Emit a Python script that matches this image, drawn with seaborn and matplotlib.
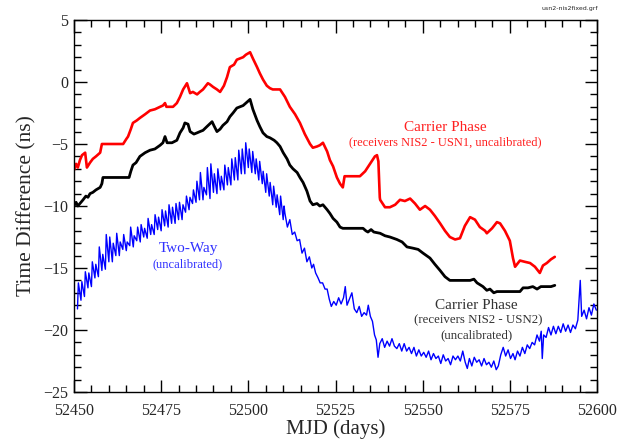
import numpy as np
import pandas as pd
import matplotlib
matplotlib.use("Agg")
import matplotlib.pyplot as plt
import seaborn as sns
from matplotlib.ticker import MultipleLocator

# carrier phase NIS2 - USN1 (red)
red_mjd = [52450.0, 52450.6, 52451.1, 52451.7, 52452.3, 52453.2, 52453.7, 52454.6, 52455.4, 52456.3,
           52457.5, 52458.0, 52464.1, 52465.0, 52465.5, 52466.3, 52466.9, 52468.0, 52468.9, 52470.4,
           52471.8, 52473.2, 52474.7, 52475.5, 52476.1, 52476.5, 52478.4, 52479.5, 52480.4, 52481.3,
           52482.4, 52483.3, 52484.1, 52485.3, 52486.1, 52487.0, 52488.4, 52489.0, 52489.9, 52491.0,
           52491.9, 52493.0, 52493.9, 52494.7, 52495.9, 52496.7, 52497.6, 52498.5, 52499.3, 52499.9,
           52500.5, 52501.3, 52502.5, 52503.3, 52504.2, 52505.3, 52506.2, 52507.0, 52509.1, 52510.5,
           52511.9, 52513.4, 52514.8, 52516.2, 52517.7, 52518.5, 52519.7, 52520.5, 52521.4, 52522.6,
           52523.4, 52524.3, 52525.4, 52526.3, 52527.1, 52527.6, 52532.0, 52533.5, 52534.9, 52536.3,
           52536.9, 52537.3, 52537.7, 52537.8, 52539.2, 52540.6, 52542.1, 52543.5, 52544.9, 52546.4,
           52547.8, 52549.2, 52550.7, 52552.1, 52553.5, 52555.0, 52556.4, 52557.8, 52559.3, 52560.7,
           52562.1, 52563.6, 52565.0, 52566.4, 52567.9, 52568.4, 52569.9, 52571.3, 52572.2, 52573.6,
           52575.0, 52575.9, 52576.5, 52577.9, 52579.3, 52580.8, 52582.2, 52583.6, 52584.5, 52585.6,
           52586.8, 52587.9]
red_ns = [-7.1, -6.6, -6.9, -6.3, -5.9, -5.7, -6.9, -6.5, -6.2, -6.0,
          -5.7, -5.0, -5.0, -4.6, -4.4, -3.8, -3.3, -3.1, -2.9, -2.6,
          -2.3, -2.2, -2.0, -1.9, -1.7, -2.0, -2.0, -1.7, -1.2, -0.6,
          -0.1, -0.9, -0.8, -1.0, -0.8, -0.6, -0.1, -0.2, -0.4, -0.6,
          -0.8, -0.3, 0.4, 1.2, 1.4, 1.8, 1.9, 2.0, 2.2, 2.3,
          2.4, 1.9, 1.2, 0.7, 0.2, -0.3, -0.5, -0.6, -0.6, -1.2,
          -2.0, -2.6, -3.3, -4.2, -5.0, -5.3, -5.2, -5.1, -4.9, -5.6,
          -6.3, -6.8, -7.7, -8.2, -8.5, -7.6, -7.6, -7.2, -6.6, -6.0,
          -5.9, -6.4, -9.3, -9.5, -10.1, -10.1, -9.9, -9.5, -9.6, -9.4,
          -9.8, -10.3, -10.0, -10.3, -10.8, -11.4, -12.0, -12.5, -12.7, -12.6,
          -11.6, -10.9, -11.1, -11.7, -12.0, -12.2, -11.8, -11.3, -11.4, -12.0,
          -12.8, -14.2, -14.9, -14.4, -14.5, -14.6, -14.9, -15.4, -14.8, -14.6,
          -14.3, -14.1]

# carrier phase NIS2 - USN2 (black)
blk_mjd = [52450.0, 52450.6, 52451.1, 52451.7, 52452.6, 52453.4, 52454.0, 52454.6, 52455.4, 52456.3,
           52457.5, 52458.0, 52458.3, 52465.8, 52466.3, 52466.9, 52467.8, 52468.9, 52470.4, 52471.8,
           52473.2, 52474.7, 52475.5, 52476.1, 52476.7, 52478.1, 52479.5, 52480.4, 52481.3, 52481.8,
           52482.7, 52483.3, 52484.4, 52485.3, 52486.1, 52487.0, 52488.1, 52489.6, 52490.1, 52491.0,
           52491.9, 52492.7, 52493.9, 52494.7, 52495.6, 52496.7, 52497.6, 52498.5, 52499.3, 52500.5,
           52501.3, 52502.5, 52503.3, 52504.2, 52505.3, 52506.2, 52507.4, 52508.2, 52509.1, 52510.0,
           52511.1, 52511.9, 52512.8, 52514.0, 52514.8, 52515.7, 52516.8, 52517.7, 52518.5, 52519.7,
           52520.5, 52521.4, 52522.6, 52523.4, 52524.3, 52525.4, 52526.3, 52527.1, 52532.9, 52533.7,
           52534.3, 52535.2, 52536.0, 52537.8, 52539.2, 52540.6, 52542.6, 52544.1, 52545.5, 52547.2,
           52548.7, 52550.1, 52552.1, 52553.5, 52555.0, 52556.4, 52557.8, 52563.6, 52564.7, 52565.6,
           52567.3, 52568.4, 52569.3, 52570.4, 52571.3, 52572.2, 52577.9, 52578.8, 52580.2, 52581.6,
           52582.8, 52583.9, 52585.6, 52586.8, 52587.9]
blk_ns = [-10.0, -9.7, -10.0, -9.8, -9.5, -9.2, -9.3, -9.0, -8.9, -8.7,
          -8.5, -8.2, -7.7, -7.7, -7.2, -6.7, -6.5, -6.0, -5.7, -5.5,
          -5.4, -5.1, -4.9, -4.4, -4.9, -4.9, -4.7, -4.1, -3.7, -3.3,
          -3.4, -4.0, -4.2, -4.1, -4.0, -3.9, -3.6, -3.2, -3.5, -4.0,
          -3.8, -3.5, -3.2, -2.8, -2.5, -2.1, -2.0, -1.9, -1.7, -1.4,
          -2.2, -3.1, -3.6, -4.1, -4.4, -4.5, -4.7, -4.9, -5.2, -5.7,
          -6.2, -6.7, -7.0, -7.3, -7.7, -8.1, -8.8, -9.6, -9.9, -9.8,
          -10.0, -9.9, -10.3, -10.6, -11.0, -11.3, -11.7, -11.8, -11.8, -12.0,
          -12.1, -11.9, -12.1, -12.2, -12.4, -12.5, -12.7, -12.9, -13.3, -13.4,
          -13.5, -13.8, -14.2, -14.7, -15.2, -15.7, -16.0, -16.0, -15.9, -16.2,
          -16.5, -16.8, -16.7, -17.0, -16.9, -16.9, -16.9, -16.6, -16.6, -16.5,
          -16.7, -16.5, -16.5, -16.5, -16.4]

# two-way, daily low / high of the diurnal swing
blue_cyc_day = list(range(52451, 52511))
blue_lo = [-18.3, -17.6, -17.3, -16.6, -16.5, -15.8, -15.7, -15.2, -15.1, -14.5,
           -14.5, -14.0, -14.0, -13.5, -13.6, -13.2, -13.3, -12.8, -12.9, -12.5,
           -12.6, -12.3, -12.3, -11.9, -12.0, -11.6, -11.7, -11.4, -11.4, -11.1,
           -11.1, -10.5, -10.3, -9.8, -9.7, -9.5, -9.5, -9.1, -9.4, -8.9,
           -9.0, -8.7, -8.7, -8.3, -8.3, -7.9, -7.9, -7.4, -7.4, -6.9,
           -7.3, -7.4, -7.9, -8.2, -8.9, -9.2, -9.9, -10.1, -10.7, -11.1]
blue_hi = [-16.2, -16.1, -15.3, -15.4, -14.5, -14.7, -13.3, -13.9, -12.3, -12.5,
           -13.0, -12.2, -12.9, -12.3, -12.9, -11.7, -12.4, -11.7, -11.5, -11.8,
           -11.0, -11.5, -10.7, -10.9, -10.3, -10.4, -9.9, -10.1, -9.8, -9.7,
           -9.9, -9.2, -9.3, -8.7, -8.0, -7.3, -8.5, -6.9, -6.6, -7.4,
           -7.0, -7.6, -6.7, -6.9, -6.2, -6.1, -5.5, -5.4, -4.9, -5.4,
           -5.6, -6.2, -6.4, -7.2, -7.4, -8.1, -8.4, -9.1, -9.2, -10.0]

blue_late_mjd = [52510.5, 52511.2, 52511.9, 52512.6, 52513.3, 52514.0, 52514.7, 52515.4, 52516.1, 52516.8,
                 52517.5, 52518.2, 52518.7, 52519.3, 52520.0, 52520.6, 52521.3, 52522.0, 52522.6, 52523.2,
                 52523.8, 52524.5, 52525.2, 52525.9, 52526.6, 52527.3, 52527.8, 52528.3, 52529.0, 52529.7,
                 52530.4, 52531.1, 52531.8, 52532.5, 52533.2, 52533.9, 52534.4, 52535.0, 52535.6, 52536.2,
                 52536.7, 52537.2, 52537.7, 52538.4, 52539.1, 52539.8, 52540.5, 52541.2, 52541.9, 52542.6,
                 52543.3, 52544.0, 52544.7, 52545.4, 52546.1, 52546.8, 52547.5, 52548.2, 52548.9, 52549.6,
                 52550.3, 52551.0, 52551.7, 52552.4, 52553.1, 52553.8, 52554.5, 52555.2, 52555.9, 52556.6,
                 52557.3, 52558.0, 52558.7, 52559.4, 52560.1, 52560.8, 52561.5, 52562.2, 52562.8, 52563.4,
                 52564.1, 52564.8, 52565.5, 52566.2, 52566.9, 52567.6, 52568.3, 52569.0, 52569.7, 52570.4,
                 52571.1, 52571.7, 52572.4, 52573.1, 52573.8, 52574.5, 52575.2, 52575.9, 52576.5, 52577.2,
                 52577.9, 52578.6, 52579.3, 52580.0, 52580.7, 52581.4, 52582.1, 52582.8, 52583.5, 52584.0,
                 52584.3, 52584.7, 52585.4, 52586.1, 52586.8, 52587.5, 52588.2, 52588.9, 52589.6, 52590.3,
                 52591.0, 52591.7, 52592.4, 52593.1, 52593.8, 52594.5, 52595.2, 52595.6, 52596.3, 52597.0,
                 52597.7, 52598.4, 52599.1, 52599.8]
blue_late_ns = [-10.6, -11.7, -11.1, -12.3, -12.1, -12.8, -12.7, -13.8, -13.4, -14.5,
                -14.1, -15.0, -14.7, -15.4, -15.8, -16.2, -16.2, -16.7, -16.7, -17.5,
                -18.1, -17.7, -18.0, -17.4, -17.9, -17.4, -16.5, -18.0, -17.5, -17.0,
                -18.3, -18.6, -18.1, -18.9, -18.6, -18.8, -18.0, -18.9, -19.3, -20.4,
                -20.8, -22.2, -21.1, -20.7, -21.4, -20.9, -21.3, -20.7, -21.3, -21.5,
                -21.1, -21.7, -21.1, -21.7, -21.4, -21.9, -21.4, -22.1, -21.6, -22.1,
                -21.8, -22.2, -21.7, -22.4, -21.9, -22.3, -22.1, -22.7, -22.0, -22.5,
                -22.3, -22.8, -22.1, -22.4, -22.1, -22.5, -21.7, -22.6, -23.1, -22.3,
                -22.9, -22.2, -22.6, -22.4, -22.9, -22.3, -22.8, -22.6, -23.0, -22.5,
                -23.2, -22.9, -22.0, -21.4, -22.1, -21.6, -22.3, -21.9, -22.4, -21.7,
                -22.1, -21.4, -21.9, -21.2, -21.5, -21.0, -21.2, -20.4, -20.9, -20.1,
                -22.3, -20.4, -20.6, -19.8, -20.4, -19.7, -20.3, -19.7, -20.2, -19.5,
                -20.1, -19.6, -20.2, -19.6, -19.9, -19.2, -16.0, -18.9, -18.4, -19.1,
                -18.2, -18.8, -17.9, -18.4]

# sawtooth: low at start of day, high a quarter day later
cyc_x, cyc_y = [], []
for d, lo, hi in zip(blue_cyc_day, blue_lo, blue_hi):
    cyc_x += [d, d + 0.25]
    cyc_y += [lo, hi]

red = pd.DataFrame({"mjd": red_mjd, "ns": red_ns})
blk = pd.DataFrame({"mjd": blk_mjd, "ns": blk_ns})
blue = pd.DataFrame({"mjd": cyc_x + blue_late_mjd, "ns": cyc_y + blue_late_ns})

sns.set_style("ticks")
plt.rcParams["font.family"] = ["Liberation Serif", "DejaVu Serif"]

fig = plt.figure(figsize=(6.21, 4.45), dpi=100)
ax = fig.add_axes([74 / 621, 53 / 445, 523 / 621, 372 / 445])

sns.lineplot(data=blue, x="mjd", y="ns", color="#0000ff", lw=1.0, estimator=None, sort=False, ax=ax)
sns.lineplot(data=blk, x="mjd", y="ns", color="black", lw=2.0, estimator=None, sort=False, ax=ax)
sns.lineplot(data=red, x="mjd", y="ns", color="#ff0000", lw=1.9, estimator=None, sort=False, ax=ax)

ax.set_xlim(52450, 52600)
ax.set_ylim(-25, 5)
ax.xaxis.set_major_locator(MultipleLocator(25))
ax.xaxis.set_minor_locator(MultipleLocator(5))
ax.yaxis.set_major_locator(MultipleLocator(5))
ax.yaxis.set_minor_locator(MultipleLocator(1))
ax.tick_params(which="both", direction="in", top=True, right=True, labelsize=11.5, color="black")
ax.tick_params(which="major", length=9, width=1)
ax.tick_params(which="minor", length=5, width=1)
ax.tick_params(axis="x", pad=8)
ax.tick_params(axis="y", pad=4)
for s in ax.spines.values():
    s.set_color("black")
    s.set_linewidth(1)
ax.set_xlabel("MJD (days)", fontsize=15, labelpad=0)
ax.set_ylabel("Time Difference (ns)", fontsize=15.5, labelpad=5)

ax.text(52556.4, -3.7, "Carrier Phase", color="#ff2020", fontsize=11, ha="center", va="center")
ax.text(52556.4, -4.9, "(receivers NIS2 - USN1, uncalibrated)", color="#ff2020", fontsize=9,
        ha="center", va="center")
ax.text(52482.7, -13.4, "Two-Way", color="#3030ff", fontsize=11, ha="center", va="center")
ax.text(52482.7, -14.7, "(uncalibrated)", color="#3030ff", fontsize=9, ha="center", va="center")
ax.text(52565.3, -18.0, "Carrier Phase", color="#333333", fontsize=11, ha="center", va="center")
ax.text(52565.9, -19.2, "(receivers NIS2 - USN2)", color="#333333", fontsize=9.3, ha="center", va="center")
ax.text(52565.3, -20.4, "(uncalibrated)", color="#333333", fontsize=9.3, ha="center", va="center")
fig.text(0.918, 0.980, "usn2-nis2fixed.grf", fontsize=4.5, family="DejaVu Sans", ha="center", va="center")

fig.savefig("out.png", dpi=100)
